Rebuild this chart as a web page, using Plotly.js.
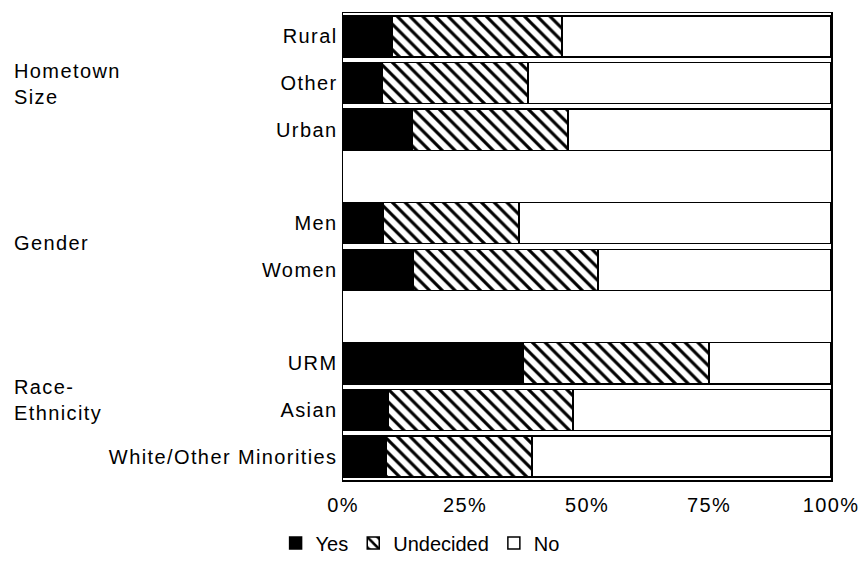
<!DOCTYPE html>
<html>
<head>
<meta charset="utf-8">
<script src="https://cdn.plot.ly/plotly-3.0.1.min.js"></script>
<style>
html,body{margin:0;padding:0;background:#fff;}
#chart{width:867px;height:574px;}
#chart .xtick text, #chart .ytick text, #chart .annotation text{letter-spacing:1.4px;}
</style>
</head>
<body>
<div id="chart"></div>
<script>
// Rows from top to bottom; empty strings are spacer rows between groups
const categories = ["Rural", "Other", "Urban", "", "Men", "Women", "", "URM", "Asian", "White/Other Minorities"];
const yesPct       = [10.0, 8.0, 14.1, null, 8.2, 14.3, null, 36.9, 9.2, 8.8];
const undecidedPct = [34.9, 29.9, 32.0, null, 27.9, 38.0, null, 38.1, 37.9, 29.9];
const noPct        = [55.1, 62.1, 53.9, null, 63.9, 47.7, null, 25.0, 52.9, 61.3];
const groupLabels = ["Hometown<br>Size", "Gender", "Race-<br>Ethnicity"];
const groupRowPos = [1.03, 4.42, 7.78];
const xTickVals = [0, 25, 50, 75, 100];
const xTickText = ["0%", "25%", "50%", "75%", "100%"];
const seriesNames = ["Yes", "Undecided", "No"];

const rowIdx = categories.map((c, i) => i);
const font = {family: "Liberation Sans, Arial, Helvetica, sans-serif", size: 20, color: "#000"};
const legendFont = {family: "Liberation Sans, Arial, Helvetica, sans-serif", size: 20, color: "#000"};
const lineStyle = {color: "#000", width: 1.5};

const traces = [
  {name: seriesNames[0], y: rowIdx, x: yesPct, type: "bar", orientation: "h",
   marker: {color: "#000", line: lineStyle}},
  {name: seriesNames[1], y: rowIdx, x: undecidedPct, type: "bar", orientation: "h",
   marker: {color: "#fff", line: lineStyle,
            pattern: {shape: "\\", fgcolor: "#000", bgcolor: "#fff", size: 9, solidity: 0.35}}},
  {name: seriesNames[2], y: rowIdx, x: noPct, type: "bar", orientation: "h",
   marker: {color: "#fff", line: lineStyle}}
];

const annotations = groupLabels.map((t, i) => ({
  text: t, xref: "paper", yref: "y", x: -0.678, y: groupRowPos[i],
  xanchor: "left", yanchor: "middle", align: "left", showarrow: false, font: font
}));

const layout = {
  width: 867, height: 574,
  margin: {l: 343, r: 36, t: 13, b: 94, autoexpand: false},
  barmode: "stack", bargap: 0.12,
  paper_bgcolor: "#fff", plot_bgcolor: "#fff",
  font: font,
  showlegend: true,
  legend: {orientation: "h", x: 0.158, xanchor: "center", y: -0.135, yanchor: "middle",
           font: legendFont, traceorder: "normal", itemwidth: 30},
  xaxis: {range: [0, 100], tickvals: xTickVals, ticktext: xTickText, showgrid: false,
          zeroline: false, showline: true, mirror: true, linecolor: "#000", linewidth: 1.5,
          ticks: "", ticklabelstandoff: 6, tickfont: font, fixedrange: true, automargin: false},
  yaxis: {range: [9.5, -0.5], tickvals: rowIdx, ticktext: categories, showgrid: false,
          zeroline: false, showline: true, mirror: true, linecolor: "#000", linewidth: 1.5,
          ticks: "", ticklabelstandoff: 0, tickfont: font, fixedrange: true, automargin: false},
  annotations: annotations
};

Plotly.newPlot("chart", traces, layout, {displayModeBar: false, staticPlot: true});
</script>
</body>
</html>
